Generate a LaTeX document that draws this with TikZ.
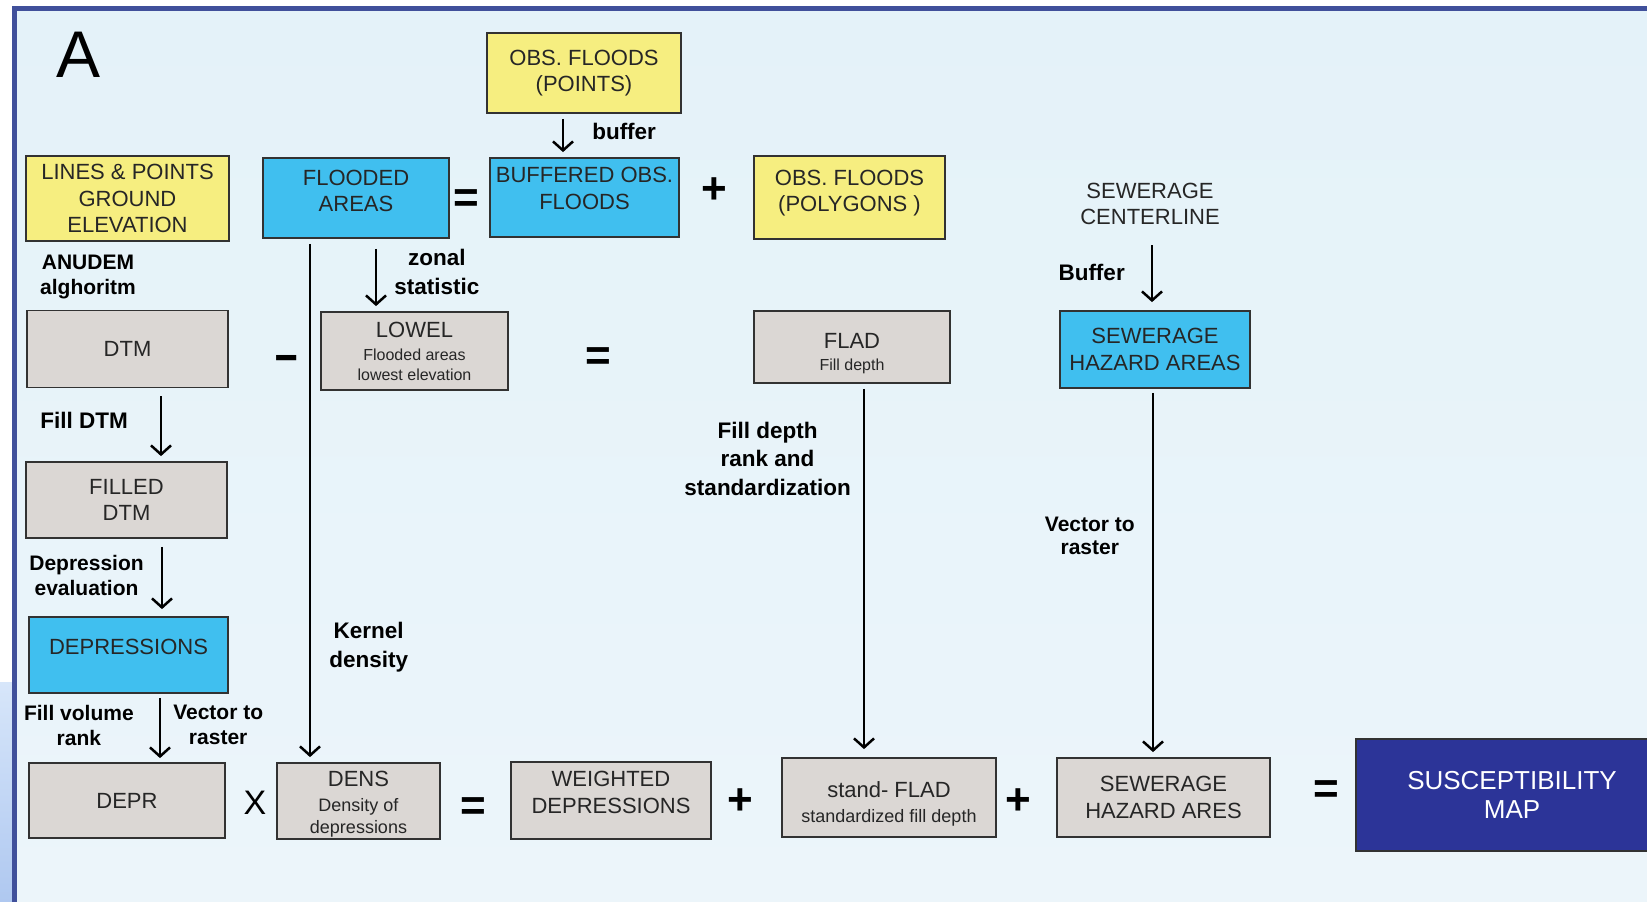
\documentclass[tikz,border=0pt]{standalone}
\usepackage{fontspec}
\setmainfont{Liberation Sans}
\usetikzlibrary{arrows.meta}

\definecolor{bgtop}{RGB}{228,242,249}
\definecolor{bgbot}{RGB}{236,245,250}
\definecolor{framebl}{RGB}{64,80,155}
\definecolor{yell}{RGB}{246,238,128}
\definecolor{cyanb}{RGB}{64,191,239}
\definecolor{greyb}{RGB}{219,215,212}
\definecolor{darkb}{RGB}{44,52,152}
\definecolor{edgeg}{RGB}{50,50,50}

\newcommand{\subtxt}[1]{{\fontsize{16}{20}\selectfont #1}}
\newcommand{\midtxt}[1]{{\fontsize{18}{22}\selectfont #1}}

\begin{document}
\begin{tikzpicture}[x=1pt, y=-1pt,
    box/.style = {draw=edgeg, line width=1.8pt, align=center, inner sep=0pt,
        font=\fontsize{22}{26.5}\selectfont, text=black!85},
    yellowbox/.style = {box, fill=yell},
    bluebox/.style = {box, fill=cyanb},
    greybox/.style = {box, fill=greyb},
    op/.style = {font=\fontsize{44}{44}\selectfont\bfseries, inner sep=0pt},
    lbl/.style = {font=\fontsize{22.5}{28.5}\selectfont\bfseries, align=center, inner sep=0pt},
    slbl/.style = {font=\fontsize{21}{25}\selectfont\bfseries, align=center, inner sep=0pt},
    arr/.style = {-{Straight Barb[length=9pt,width=20pt]}, line width=2.5pt,
        shorten <=5pt, shorten >=5pt}]
    \useasboundingbox (0,0) rectangle (1647,902);

    % background and frame
    \fill[white] (0,0) rectangle (1647,902);
    \shade[top color=bgtop, bottom color=bgbot] (17,10) rectangle (1647,902);
    \shade[top color={rgb,255:red,215;green,230;blue,250}, bottom color={rgb,255:red,175;green,200;blue,240}] (0,682) rectangle (12,902);
    \fill[framebl] (12,6) rectangle (1647,10.5);
    \fill[framebl] (12,6) rectangle (17,902);

    \node[font=\fontsize{66}{66}\selectfont, inner sep=0pt] (lettera) at (79,55) {A};

    % top row
    \node[yellowbox, minimum width=194pt, minimum height=80pt] (pts) at (584,73) {OBS. FLOODS\\(POINTS)};
    \node[yellowbox, minimum width=203pt, minimum height=85pt] (lpge) at (127.5,198.5) {LINES \& POINTS\\GROUND\\ELEVATION};
    \node[bluebox, minimum width=186pt, minimum height=80pt, text depth=14pt] (flood) at (356,198) {FLOODED\\AREAS};
    \node[bluebox, minimum width=189pt, minimum height=79pt, text depth=18pt] (bobs) at (584.5,197.5) {BUFFERED OBS.\\FLOODS};
    \node[yellowbox, minimum width=191pt, minimum height=83pt, text depth=13pt] (poly) at (849.5,197.5) {OBS. FLOODS\\(POLYGONS )};
    \node[font=\fontsize{22}{26.5}\selectfont, align=center, inner sep=0pt, text=black!85] (sewc) at (1150,204) {SEWERAGE\\CENTERLINE};
    \node[slbl] (anudem) at (88,277) {ANUDEM\\alghoritm};

    % second row
    \node[greybox, minimum width=201pt, minimum height=77pt] (dtm) at (127.5,349) {DTM};
    \node[greybox, minimum width=187pt, minimum height=78pt] (lowel) at (414.5,351) {LOWEL\\[-3.5pt]\subtxt{Flooded areas}\\[-6.5pt]\subtxt{lowest elevation}};
    \node[greybox, minimum width=196pt, minimum height=72pt, text height=50pt] (flad) at (852,347) {FLAD\\[-4.5pt]\subtxt{Fill depth}};
    \node[bluebox, minimum width=190pt, minimum height=77pt] (sha) at (1155,349.5) {SEWERAGE\\HAZARD AREAS};

    % left column
    \node[greybox, minimum width=201pt, minimum height=76pt] (filled) at (126.5,500) {FILLED\\DTM};
    \node[bluebox, minimum width=199pt, minimum height=76pt, text depth=16pt] (deps) at (128.5,655) {DEPRESSIONS};

    % bottom row
    \node[greybox, minimum width=196pt, minimum height=75pt] (depr) at (127,800.5) {DEPR};
    \node[greybox, minimum width=163pt, minimum height=76pt, text height=69pt] (dens) at (358.5,801) {DENS\\[-1.5pt]\midtxt{Density of}\\[-4.5pt]\midtxt{depressions}};
    \node[greybox, minimum width=200pt, minimum height=77pt, text depth=16pt] (wdep) at (611,800.5) {WEIGHTED\\DEPRESSIONS};
    \node[greybox, minimum width=214pt, minimum height=79pt, text height=53pt] (sflad) at (889,797.5) {stand- FLAD\\[-1.5pt]\midtxt{standardized fill depth}};
    \node[greybox, minimum width=213pt, minimum height=79pt] (shares) at (1163.5,797.5) {SEWERAGE\\HAZARD ARES};
    \node[box, fill=darkb, text=white, font=\fontsize{26}{29}\selectfont, minimum width=312pt, minimum height=112pt] (smap) at (1512,795) {SUSCEPTIBILITY\\MAP};

    % operators
    \node[op] (eqa) at (466,201) {=};
    \node[op] (plusa) at (714,191) {+};
    \node[op] (minus) at (287,362) {\scalebox{1.8}[1]{-}};
    \node[op] (eqb) at (598,359) {=};
    \node[font=\fontsize{34}{34}\selectfont, inner sep=0pt] (times) at (255,803) {X};
    \node[op] (eqc) at (473,809) {=};
    \node[op] (plusb) at (740,802) {+};
    \node[op] (plusc) at (1018,802) {+};
    \node[op] (eqd) at (1326,792) {=};

    % arrows
    \path[arr] ([xshift=-21pt]pts.south) edge node[lbl, right=28pt, pos=0.4] {buffer} ([xshift=-21.5pt]bobs.north);
    \path[arr, shorten <=10pt] ([xshift=20pt]flood.south) edge node[lbl, right=17pt, pos=0.46] {zonal\\statistic} ([xshift=-38.5pt]lowel.north);
    \path[arr] ([xshift=-46pt]flood.south) edge node[lbl, right=18pt, pos=0.78] {Kernel\\density} ([xshift=-48.5pt]dens.north);
    \path[arr, shorten <=8pt] ([xshift=33.5pt]dtm.south) edge node[lbl, left=32pt, pos=0.44] {Fill DTM} ([xshift=34.5pt]filled.north);
    \path[arr, shorten <=8pt, shorten >=7pt] ([xshift=35.5pt]filled.south) edge node[slbl, left=17pt, pos=0.47] {Depression\\evaluation} ([xshift=33.5pt]deps.north);
    \path[arr, shorten <=4pt, shorten >=4pt] ([xshift=31.5pt]deps.south) edge node[slbl, left=25pt, pos=0.46] {Fill volume\\rank} node[slbl, right=12pt, pos=0.46] {Vector to\\raster} ([xshift=33pt]depr.north);
    \path[arr, shorten >=8pt] ([xshift=12pt]flad.south) edge node[lbl, left=12pt, pos=0.2] {Fill depth\\rank and\\standardization} ([xshift=-25pt]sflad.north);
    \path[arr, shorten <=20pt, shorten >=8pt] ([xshift=2pt]sewc.south) edge node[lbl, left=26pt, pos=0.56] {Buffer} ([xshift=-3pt]sha.north);
    \path[arr, shorten <=4pt] ([xshift=-2pt]sha.south) edge node[slbl, left=17pt, pos=0.4] {Vector to\\[-2pt]raster} ([xshift=-10.5pt]shares.north);
\end{tikzpicture}
\end{document}
